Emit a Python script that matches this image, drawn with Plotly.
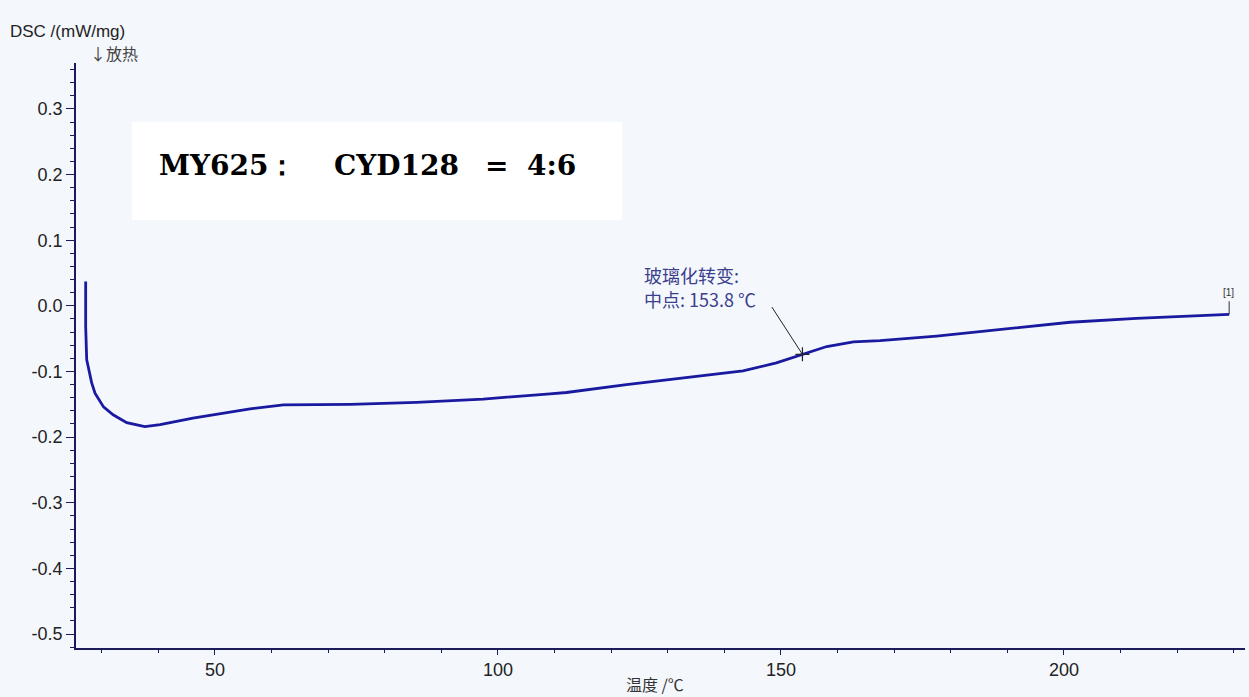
import numpy as np
import plotly.graph_objects as go

# DSC curve, temperature (°C) vs heat flow (mW/mg)
temperature = [27.15, 27.15, 27.33, 28.2, 28.8, 30.3, 32.0, 34.4, 37.6, 40.3, 46.1, 52.1,
               56.2, 62.1, 73.9, 85.6, 97.4, 109.2, 112.1, 122.7, 134.5, 143.3, 149.2,
               153.4, 158.1, 162.8, 167.5, 177.5, 189.3, 201.1, 212.8, 224.6, 229.2]
dsc = [0.037, -0.032, -0.082, -0.117, -0.133, -0.154, -0.166, -0.178, -0.184, -0.181, -0.171, -0.163,
       -0.157, -0.151, -0.150, -0.147, -0.142, -0.134, -0.132, -0.120, -0.108, -0.099, -0.087,
       -0.075, -0.062, -0.055, -0.053, -0.046, -0.036, -0.025, -0.019, -0.014, -0.013]

# glass transition midpoint
tg_mid = 153.8

x_ticks = [50, 100, 150, 200]
x_tick_text = ["50", "100", "150", "200"]
y_ticks = [0.3, 0.2, 0.1, 0.0, -0.1, -0.2, -0.3, -0.4, -0.5]
y_tick_text = ["0.3", "0.2", "0.1", "0.0", "-0.1", "-0.2", "-0.3", "-0.4", "-0.5"]

# sample composition label, drawn piece by piece
ratio_parts = ["MY625：", "CYD128", "=", "4:6"]

bg = "#f4f7fc"
axis_col = "#1c1c5c"
curve_col = "#1a1aa0"
note_col = "#3b3f8c"

tg_y = float(np.interp(tg_mid, temperature, dsc))

fig = go.Figure()
fig.add_trace(go.Scatter(x=temperature, y=dsc, mode="lines",
                         line=dict(color=curve_col, width=2.8), hoverinfo="skip"))
# crosshair at the midpoint
fig.add_trace(go.Scatter(x=[tg_mid], y=[tg_y], mode="markers",
                         marker=dict(symbol="cross-thin", size=10,
                                     line=dict(color="#202030", width=1.2)),
                         hoverinfo="skip"))

shapes = [
    # white label box
    dict(type="rect", xref="paper", yref="paper", x0=0.0479, x1=0.467, y0=0.7316, y1=0.899,
         fillcolor="white", line=dict(width=0), layer="above"),
    # leader line to the midpoint
    dict(type="line", xref="x", yref="y", x0=tg_mid, y0=tg_y, x1=tg_mid - 5.4, y1=tg_y + 0.072,
         line=dict(color="#202030", width=1)),
    # curve-end marker
    dict(type="line", xref="x", yref="y", x0=temperature[-1], y0=dsc[-1],
         x1=temperature[-1], y1=dsc[-1] + 0.02, line=dict(color="#303040", width=1)),
]

serif = dict(family="DejaVu Serif", size=28, color="#000000", weight="bold")
ratio_pos = [(0.0693, "left"), (0.219, "left"), (0.3601, "center"), (0.3841, "left")]

annotations = [
    dict(text="DSC /(mW/mg)", xref="paper", yref="paper", x=-0.0582, y=1.053,
         xanchor="left", yanchor="middle", showarrow=False,
         font=dict(family="Liberation Sans", size=17, color="#222222")),
    dict(text="↓放热", xref="paper", yref="paper", x=0.0103, y=1.017,
         xanchor="left", yanchor="middle", showarrow=False,
         font=dict(family="Noto Sans CJK SC", size=16, color="#444444")),
    dict(text="温度 /℃", xref="paper", yref="paper", x=0.4953, y=-0.061,
         xanchor="center", yanchor="middle", showarrow=False,
         font=dict(family="Noto Sans CJK SC", size=16, color="#333333")),
    dict(text="玻璃化转变:", xref="x", yref="y", x=125.5, y=0.047,
         xanchor="left", yanchor="middle", showarrow=False,
         font=dict(family="Noto Sans CJK SC", size=18, color=note_col)),
    dict(text=f"中点: {tg_mid} ℃", xref="x", yref="y", x=125.5, y=0.011,
         xanchor="left", yanchor="middle", showarrow=False,
         font=dict(family="Noto Sans CJK SC", size=18, color=note_col)),
    dict(text="[1]", xref="x", yref="y", x=temperature[-1] - 0.2, y=dsc[-1] + 0.034,
         xanchor="center", yanchor="middle", showarrow=False,
         font=dict(family="Liberation Sans", size=10, color="#333333")),
]
for part, (px, anchor) in zip(ratio_parts, ratio_pos):
    annotations.append(dict(text=part, xref="paper", yref="paper", x=px, y=0.824,
                            xanchor=anchor, yanchor="middle", showarrow=False, font=serif))

fig.update_layout(
    width=1249, height=697,
    margin=dict(l=76, r=4, t=63, b=49),
    paper_bgcolor=bg, plot_bgcolor=bg,
    showlegend=False,
    shapes=shapes, annotations=annotations,
    xaxis=dict(range=[25.44, 232.0], tickmode="array", tickvals=x_ticks, ticktext=x_tick_text,
               ticks="outside", ticklen=5, tickcolor=axis_col, tickwidth=1.2,
               showline=True, linecolor=axis_col, linewidth=1.6, showgrid=False, zeroline=False,
               tickfont=dict(family="Liberation Sans", size=18, color="#222222"),
               minor=dict(dtick=10, tick0=0, ticks="outside", ticklen=3, tickcolor=axis_col,
                          showgrid=False)),
    yaxis=dict(range=[-0.5213, 0.370], tickmode="array", tickvals=y_ticks, ticktext=y_tick_text,
               ticks="outside", ticklen=8, tickcolor=axis_col, tickwidth=1.2,
               showline=True, linecolor=axis_col, linewidth=1.6, showgrid=False, zeroline=False,
               tickfont=dict(family="Liberation Sans", size=18, color="#222222"),
               minor=dict(dtick=0.02, tick0=0, ticks="outside", ticklen=4, tickcolor=axis_col,
                          showgrid=False)),
)

fig.write_html("out.html")
